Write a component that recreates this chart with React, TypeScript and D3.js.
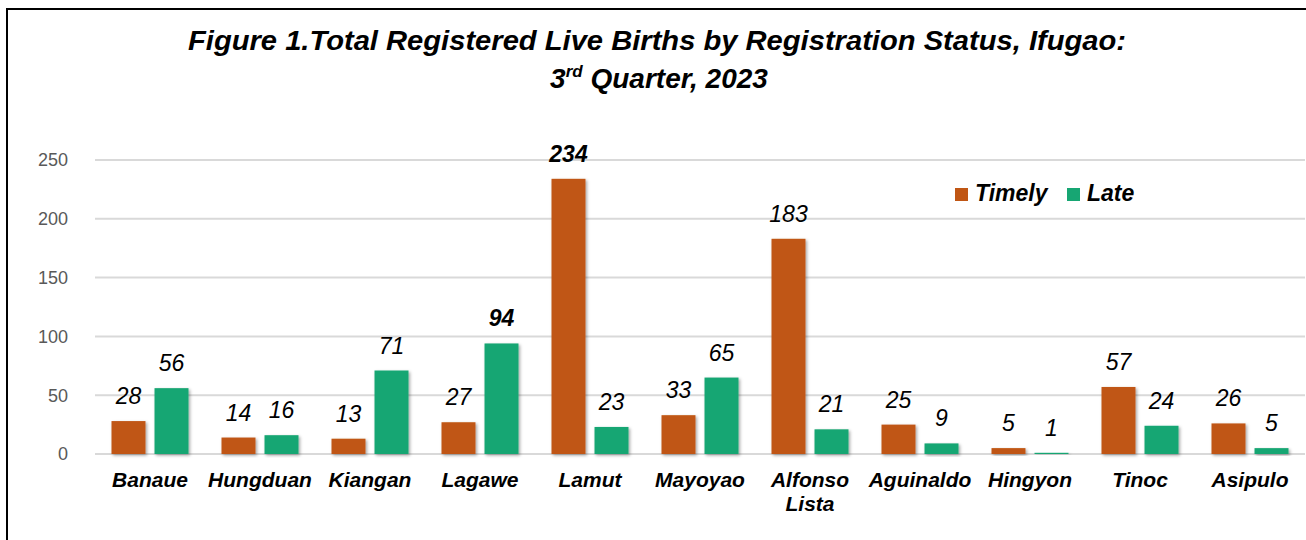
import React from 'react';
import * as d3 from 'd3';

// chart data
const categories = ['Banaue', 'Hungduan', 'Kiangan', 'Lagawe', 'Lamut', 'Mayoyao', 'Alfonso Lista', 'Aguinaldo', 'Hingyon', 'Tinoc', 'Asipulo'];
const timely = [28, 14, 13, 27, 234, 33, 183, 25, 5, 57, 26];
const late = [56, 16, 71, 94, 23, 65, 21, 9, 1, 24, 5];
const seriesNames = ['Timely', 'Late'];
const yTicks = [0, 50, 100, 150, 200, 250];

const colors = ['#C05614', '#17A673'];
const FONT = '"Liberation Sans", Arial, sans-serif';

const width = 1306;
const height = 540;
const plot = { left: 95, right: 1305, top: 160, bottom: 454 };

export default function App() {
  const x0 = d3.scaleBand<string>()
    .domain(categories)
    .range([plot.left, plot.right])
    .paddingInner(0.3)
    .paddingOuter(0.15);

  const x1 = d3.scaleBand<string>()
    .domain(seriesNames)
    .range([0, x0.bandwidth()])
    .paddingInner(0.21);

  const y = d3.scaleLinear().domain([0, 250]).range([plot.bottom, plot.top]);

  const series = [timely, late];
  const maxes = series.map(s => d3.max(s) as number);

  return (
    <div style={{ position: 'absolute', left: 0, top: 0 }}>
      <svg width={width} height={height} style={{ display: 'block', fontFamily: FONT }}>
        <defs>
          <filter id="shadow" x="-20%" y="-10%" width="150%" height="130%">
            <feDropShadow dx="1.5" dy="1.5" stdDeviation="1.5" floodColor="#000" floodOpacity="0.35" />
          </filter>
        </defs>
        <rect x={0} y={0} width={width} height={height} fill="#fff" />
        {/* frame */}
        <rect x={7} y={9} width={width + 10} height={height + 10} fill="none" stroke="#000" strokeWidth={2} />

        {/* title */}
        <text x={657} y={50} textAnchor="middle" fontSize={28} fontWeight="bold" fontStyle="italic" fill="#000"
          textLength={938} lengthAdjust="spacingAndGlyphs">
          Figure 1.Total Registered Live Births by Registration Status, Ifugao:
        </text>
        <text x={659} y={88} textAnchor="middle" fontSize={28} fontWeight="bold" fontStyle="italic" fill="#000">
          3<tspan fontSize={17} dy={-11}>rd</tspan><tspan dy={11}> Quarter, 2023</tspan>
        </text>

        {/* gridlines + y ticks */}
        {yTicks.map(t => (
          <g key={t}>
            <line x1={plot.left} x2={plot.right} y1={y(t)} y2={y(t)} stroke="#D9D9D9" strokeWidth={2} />
            <text x={68} y={y(t)} dy="0.35em" textAnchor="end" fontSize={18} fill="#595959">{t}</text>
          </g>
        ))}

        {/* bars */}
        {categories.map((c, i) => (
          <g key={c} transform={`translate(${x0(c)},0)`}>
            {series.map((s, k) => {
              const v = s[i];
              const bx = x1(seriesNames[k]) as number;
              return (
                <g key={k}>
                  <rect x={bx} y={y(v)} width={x1.bandwidth()} height={plot.bottom - y(v)} fill={colors[k]} filter="url(#shadow)" />
                  <text x={bx + x1.bandwidth() / 2} y={y(v) - 17} textAnchor="middle" fontSize={23} fontStyle="italic"
                    fontWeight={v === maxes[k] ? 'bold' : 'normal'} fill="#000">{v}</text>
                </g>
              );
            })}
          </g>
        ))}

        {/* category labels */}
        {categories.map(c => {
          const cx = (x0(c) as number) + x0.bandwidth() / 2;
          const words = c.split(' ');
          return (
            <text key={c} x={cx} y={487} textAnchor="middle" fontSize={21} fontWeight="bold" fontStyle="italic" fill="#000">
              {words.map((w, j) => (
                <tspan key={j} x={cx} dy={j === 0 ? 0 : 24}>{w}</tspan>
              ))}
            </text>
          );
        })}

        {/* legend */}
        {seriesNames.map((n, k) => {
          const lx = [955, 1067][k];
          return (
            <g key={n}>
              <rect x={lx} y={188} width={13} height={13} fill={colors[k]} />
              <text x={lx + 20} y={201} fontSize={23} fontWeight="bold" fontStyle="italic" fill="#000">{n}</text>
            </g>
          );
        })}
      </svg>
    </div>
  );
}
